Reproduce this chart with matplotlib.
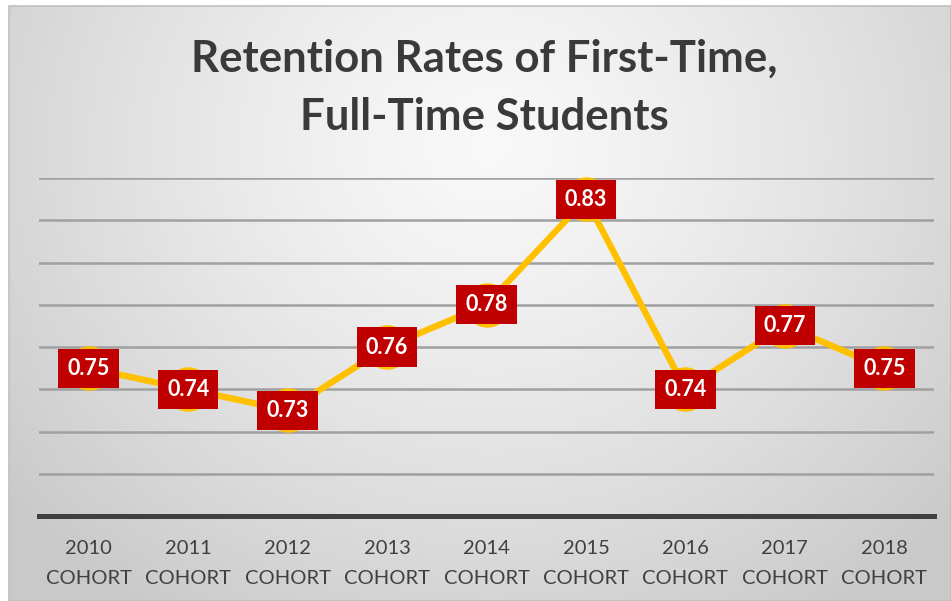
import numpy as np
import matplotlib
matplotlib.use("Agg")
import matplotlib.pyplot as plt
from matplotlib.patches import Rectangle

plt.rcParams['font.family'] = ['Lato', 'DejaVu Sans']

categories = ["2010\nCOHORT", "2011\nCOHORT", "2012\nCOHORT", "2013\nCOHORT", "2014\nCOHORT",
              "2015\nCOHORT", "2016\nCOHORT", "2017\nCOHORT", "2018\nCOHORT"]
values = [0.75, 0.74, 0.73, 0.76, 0.78, 0.83, 0.74, 0.77, 0.75]
title = "Retention Rates of First-Time,\nFull-Time Students"

W, H = 951, 601
fig = plt.figure(figsize=(W / 100, H / 100), dpi=100)
fig.patch.set_facecolor("white")

# background gradient panel
bx0, by0 = 9, 6  # pixels from left/top
bg = fig.add_axes([bx0 / W, 0, 1 - bx0 / W, 1 - by0 / H])
yy, xx = np.mgrid[0:H - by0, 0:W - bx0]
cx, cy = 480, 140
d = np.sqrt(((xx - cx) / 620.0) ** 2 + ((yy - cy) / 560.0) ** 2)
d = np.clip(d, 0, 1)
c = 0.975 - (0.975 - 0.79) * d ** 1.3
img = np.dstack([c, c, c])
bg.imshow(img, aspect="auto", extent=[0, 1, 0, 1], origin="upper")
bg.set_xlim(0, 1); bg.set_ylim(0, 1)
bg.axis("off")
fig.add_artist(Rectangle((bx0 / W, 0), 1 - bx0 / W, 1 - by0 / H, transform=fig.transFigure,
                         fill=False, edgecolor="#c0c0c0", linewidth=1.2))

# main axes: x 39..934 px, y 178..516 px
ax = fig.add_axes([39 / W, 1 - 516 / H, (934 - 39) / W, (516 - 178) / H])
ax.patch.set_alpha(0)
x = np.arange(len(values))
ax.set_xlim(-0.5, len(values) - 0.5)
ax.set_ylim(0.68, 0.84)
ax.set_yticks(np.arange(0.70, 0.841, 0.02))
ax.yaxis.grid(True, color="#a0a0a0", linewidth=1.8)
ax.set_axisbelow(True)
for s in ["left", "right", "top"]:
    ax.spines[s].set_visible(False)
ax.spines["bottom"].set_color("#404040")
ax.spines["bottom"].set_linewidth(3.6)
ax.tick_params(axis="y", left=False, labelleft=False)
ax.tick_params(axis="x", bottom=False, pad=14)
ax.set_xticks(x)
ax.set_xticklabels(categories, fontsize=14.5, color="#404040", linespacing=1.9)

ax.plot(x, values, color="#FFC000", linewidth=4.6, marker="o", markersize=31,
        markerfacecolor="#FFC000", markeredgecolor="#FFC000", zorder=3, clip_on=False)
for xi, v in zip(x, values):
    ax.text(xi, v, f"{v:.2f}", ha="center", va="center", fontsize=15.5, fontweight="bold",
            color="white", zorder=5,
            bbox=dict(boxstyle="square,pad=0.42", facecolor="#C00000", edgecolor="none"))

fig.text(484 / W, 1 - 88 / H, title, ha="center", va="center", fontsize=31.5,
         fontweight="bold", color="#3a3a3a", linespacing=1.55)

fig.savefig("out.png", dpi=100)
